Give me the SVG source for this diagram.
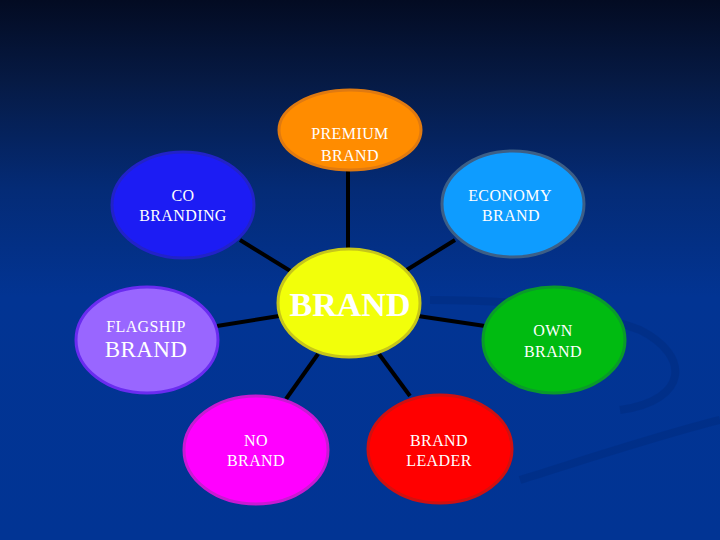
<svg xmlns="http://www.w3.org/2000/svg" width="720" height="540" viewBox="0 0 720 540">
<defs>
<linearGradient id="bg" x1="0" y1="0" x2="0" y2="1">
<stop offset="0" stop-color="#030b22"/>
<stop offset="0.15" stop-color="#061a44"/>
<stop offset="0.35" stop-color="#042b76"/>
<stop offset="0.55" stop-color="#023493"/>
<stop offset="1" stop-color="#013494"/>
</linearGradient>
<style>
.t{font-family:"Liberation Serif","Times New Roman",serif;fill:#ffffff;text-anchor:middle;font-size:16px;letter-spacing:0.4px}
.big{font-size:34px;font-weight:bold;letter-spacing:0}
.mid{font-size:23px}
.n{stroke-width:3}
.c line{stroke:#000000;stroke-width:4}
</style>
</defs>
<rect width="720" height="540" fill="url(#bg)"/>
<g opacity="0.18" fill="none" stroke="#001c5c" stroke-width="8">
<path d="M430 300 C470 300 560 300 640 330 C690 355 690 400 620 410"/>
<path d="M520 480 C600 455 660 435 720 420"/>
</g>
<g class="c">
<line x1="348" y1="170" x2="348" y2="250"/>
<line x1="240" y1="240" x2="292" y2="272"/>
<line x1="455" y1="240" x2="405" y2="271"/>
<line x1="217" y1="326" x2="279" y2="316"/>
<line x1="418" y1="316" x2="485" y2="326"/>
<line x1="286" y1="399" x2="318" y2="354"/>
<line x1="410" y1="396" x2="379" y2="354"/>
</g>
<g id="premium">
<ellipse class="n" cx="350" cy="130" rx="71" ry="40" fill="#ff8c00" stroke="#e07a10"/>
<text class="t" x="350" y="139">PREMIUM</text>
<text class="t" x="350" y="161">BRAND</text>
</g>
<g id="cobranding">
<ellipse class="n" cx="183" cy="205" rx="71" ry="53" fill="#1c1cf4" stroke="#2222c8"/>
<text class="t" x="183" y="201">CO</text>
<text class="t" x="183" y="221">BRANDING</text>
</g>
<g id="economy">
<ellipse class="n" cx="513" cy="204" rx="71" ry="53" fill="#0e9cff" stroke="#3d5f86"/>
<text class="t" x="510" y="201">ECONOMY</text>
<text class="t" x="511" y="221">BRAND</text>
</g>
<g id="brand">
<ellipse class="n" cx="349" cy="303" rx="71" ry="54" fill="#f2ff0a" stroke="#c6c61a"/>
<text class="t big" x="350" y="316">BRAND</text>
</g>
<g id="flagship">
<ellipse class="n" cx="147" cy="340" rx="71" ry="53" fill="#9966ff" stroke="#6a2cf0"/>
<text class="t" x="146" y="332">FLAGSHIP</text>
<text class="t mid" x="146" y="357">BRAND</text>
</g>
<g id="own">
<ellipse class="n" cx="554" cy="340" rx="71" ry="53" fill="#00bb11" stroke="#0a9a2a"/>
<text class="t" x="553" y="336">OWN</text>
<text class="t" x="553" y="357">BRAND</text>
</g>
<g id="nobrand">
<ellipse class="n" cx="256" cy="450" rx="72" ry="54" fill="#ff00ff" stroke="#c81ad2"/>
<text class="t" x="256" y="446">NO</text>
<text class="t" x="256" y="466">BRAND</text>
</g>
<g id="brandleader">
<ellipse class="n" cx="440" cy="449" rx="72" ry="54" fill="#ff0000" stroke="#d01010"/>
<text class="t" x="439" y="446">BRAND</text>
<text class="t" x="439" y="466">LEADER</text>
</g>
</svg>
